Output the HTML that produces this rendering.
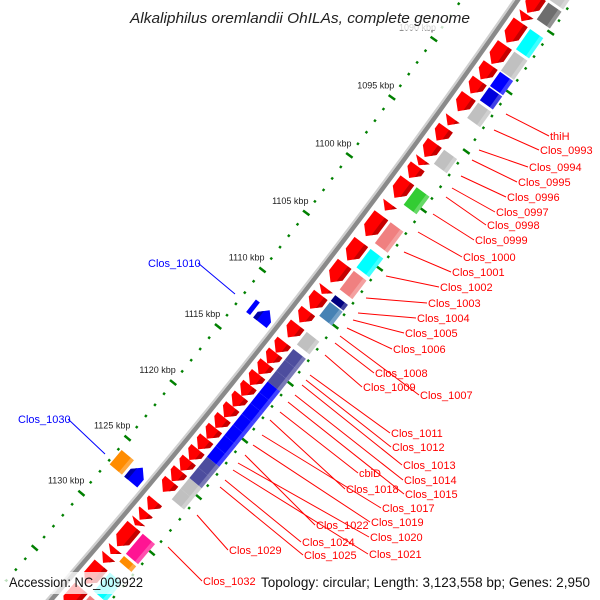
<!DOCTYPE html>
<html><head><meta charset="utf-8"><style>
html,body{margin:0;padding:0;background:#fff;width:600px;height:600px;overflow:hidden;}
svg{display:block;font-family:"Liberation Sans",sans-serif;}
</style></head><body>
<svg id="map" width="600" height="600" viewBox="0 0 600 600" xmlns="http://www.w3.org/2000/svg">
<g id="backbone"></g>
<g id="ticks"></g>
<g id="genes"></g>
<g id="labels"></g>
<rect x="124" y="6" width="352" height="24" fill="#fff" opacity="0.8"/>
<text x="130" y="23" font-size="14.5" font-style="italic" fill="#222" textLength="340" lengthAdjust="spacingAndGlyphs">Alkaliphilus oremlandii OhILAs, complete genome</text>
<rect x="5" y="572" width="143" height="22" fill="#fff" opacity="0.75"/>
<text x="9" y="587" font-size="14" fill="#111" textLength="134" lengthAdjust="spacingAndGlyphs">Accession: NC_009922</text>
<rect x="256" y="572" width="339" height="22" fill="#fff" opacity="0.75"/>
<text x="261" y="587" font-size="14" fill="#111" textLength="329" lengthAdjust="spacingAndGlyphs">Topology: circular; Length: 3,123,558 bp; Genes: 2,950</text>
</svg>
<script>
// ---- data ----
const geneStart = [1081.5,1083.4,1084.9,1085.6,1087.5,1089.2,1090.5,1091.8,1093.7,1094.5,1095.8,1097.2,1097.8,1099.0,1101.0,1102.0,1104.3,1106.2,1108.3,1108.9,1110.3,1111.5,
 1113.0,1113.95,1114.9,1115.85,1116.8,1117.75,1118.7,1119.65,1120.6,1121.55,1122.5,1123.45,1124.4,1125.35,
 1127.1,1128.1,1128.9,1129.4,1131.4,1132.1,1132.9,1135.0,
 1111.9,1125.9];
const geneEnd = [1083.2,1084.8,1085.5,1087.3,1089.1,1090.4,1091.6,1093.1,1094.3,1095.6,1097.0,1097.7,1098.8,1100.5,1101.6,1103.8,1105.9,1107.8,1108.8,1110.1,1111.3,1112.6,
 1113.95,1114.9,1115.85,1116.8,1117.75,1118.7,1119.65,1120.6,1121.55,1122.5,1123.45,1124.4,1125.35,1126.3,
 1127.9,1128.8,1129.3,1131.2,1131.9,1132.7,1134.6,1136.8,
 1113.0,1127.2];
const geneStrand = [1,1,1,1,1,1,1,1,1,1,1,1,1,1,1,1,1,1,1,1,1,1,
 1,1,1,1,1,1,1,1,1,1,1,1,1,1,
 1,1,1,1,1,1,1,1,
 -1,-1];
const geneCog = ["#c8c8c8","#6e6e6e","","#00ffff","#c0c0c0","#0000ff","#0000dd","#c0c0c0","","","#c0c0c0","","","#33cc33","","#f08080","#00ffff","#f08080","#000080","#4682b4","","#c0c0c0",
 "#4d4d9e","#4d4d9e","#4d4d9e","#0000ff","#0000ff","#0000ff","#0000ff","#0000ff","#0000ff","#0000ff","#4d4d9e","#4d4d9e","#c0c0c0","#c0c0c0",
 "","","","#ff1493","#ff8c00","","#00ffff","#f08080",
 "#0000ff","#ff8c00"];
const geneBoxThin = [0,0,0,0,0,0,0,0,0,0,0,0,0,0,0,0,0,0,0,0,0,0,
 0,0,0,0,0,0,0,0,0,0,0,0,0,0,
 0,0,0,0,0,0,0,0,
 1,0];
const tickStart = 1080, tickEnd = 1140, tickLabelMax = 1130;
const labelText = ["thiH","Clos_0993","Clos_0994","Clos_0995","Clos_0996","Clos_0997","Clos_0998","Clos_0999","Clos_1000","Clos_1001","Clos_1002","Clos_1003","Clos_1004","Clos_1005","Clos_1006","Clos_1008","Clos_1009","Clos_1007","Clos_1011","Clos_1012","Clos_1013","Clos_1014","Clos_1015","cbiD","Clos_1018","Clos_1017","Clos_1019","Clos_1022","Clos_1020","Clos_1024","Clos_1025","Clos_1021","Clos_1029","Clos_1032","Clos_1010","Clos_1030"];
const labelX = [550,540,529,518,507,496,487,475,463,452,440,428,417,405,393,375,363,420,391,392,403,404,405,359,346,382,371,316,370,302,304,369,229,203,148,18];
const labelY = [140,154,171,186,201,216,229,244,261,276,291,307,322,337,353,377,391,399,437,451,469,484,498,477,493,512,526,529,541,546,559,558,554,585,267,423];
const lineX1 = [506,494,479,472,461,452,446,433,418,404,386,366,358,353,347,335,325,340,310,306,302,295,288,280,270,262,253,245,238,225,220,233,197,168,235,105];
const lineY1 = [114,130,150,160,176,188,197,214,232,252,276,298,313,320,328,343,355,336,375,380,385,395,402,412,420,435,445,455,463,480,487,470,515,547,294,454];
const labelColor = labelText.map((t,i)=> i>=34 ? "#0000ff" : "#ff0000");

// ---- geometry ----
const NS="http://www.w3.org/2000/svg";
const CX=-5086, CY=-3879, R0=6815;
function ang(k){return (38.41+0.1217*(k-1115))*Math.PI/180;}
function pt(k,o){const a=ang(k),r=R0+o;return [CX+r*Math.cos(a),CY+r*Math.sin(a)];}
function P(arr){return arr.map(p=>p[0].toFixed(2)+","+p[1].toFixed(2)).join(" ");}
function mk(tag,attrs,parent){const e=document.createElementNS(NS,tag);for(const a in attrs)e.setAttribute(a,attrs[a]);parent.appendChild(e);return e;}

// backbone
const bb=document.getElementById("backbone");
function arcPts(o){const a=[];for(let k=tickStart;k<=tickEnd;k+=0.5)a.push(pt(k,o));return a;}
let bl=mk("polyline",{points:P(arcPts(0.5)),fill:"none",stroke:"#8a8a8a","stroke-width":4.5},bb);


let bl2=mk("polyline",{points:P(arcPts(-2.8)),fill:"none",stroke:"#cfcfcf","stroke-width":2.2},bb);



// ticks
const tg=document.getElementById("ticks");
for(let k=tickStart;k<=tickEnd;k++){
  const major=(k%5===0);
  for(const side of [-1,1]){
    const o=46*side, h=major?4:1.2;
    const a=pt(k,o-h), b=pt(k,o+h);
    const t=mk("line",{x1:a[0],y1:a[1],x2:b[0],y2:b[1],stroke:"#008000","stroke-width":2.5},tg);
    
    
  }
  if(major && k<=tickLabelMax){
    const c=pt(k,-66);
    const tx=mk("text",{x:c[0],y:c[1]+3,"font-size":9,"text-anchor":"middle",fill:"#222"},tg);
    tx.textContent=k+" kbp";
    
    
  }
}

// genes
const gg=document.getElementById("genes");
for(let i=0;i<geneStart.length;i++){
  const s=geneStart[i], e=geneEnd[i], st=geneStrand[i];
  const len=e-s, h=Math.min(0.6,len);
  const g=mk("g",{},gg);
  
  
  let arrowPts, shadePts;
  if(st>0){
    arrowPts=[pt(s,7),pt(e-h,7),pt(e,15.5),pt(e-h,24),pt(s,24)];
    shadePts=[pt(s,19.5),pt(e-h,19.5),pt(e-h*0.47,19.5),pt(e-h,24),pt(s,24)];
  } else {
    arrowPts=[pt(e,-7),pt(s+h,-7),pt(s,-15.5),pt(s+h,-24),pt(e,-24)];
    shadePts=[pt(e,-19.5),pt(s+h,-19.5),pt(s+h*0.47,-19.5),pt(s+h,-24),pt(e,-24)];
  }
  const ac = st>0 ? "#ff0000" : "#0000ff";
  const sc = st>0 ? "#c40000" : "#0000a8";
  const ar=mk("polygon",{points:P(arrowPts),fill:ac},g);
  
  
  const sh=mk("polygon",{points:P(shadePts),fill:sc},g);
  
  
  if(geneCog[i]){
    let o1=st>0?27:-43, o2=st>0?43:-27;
    if(geneBoxThin[i]){ o1=st>0?28:-33; o2=st>0?33:-28; }
    const bx=mk("polygon",{points:P([pt(s,o1),pt(e,o1),pt(e,o2),pt(s,o2)]),fill:geneCog[i]},g);
    
    
    if(!geneBoxThin[i]){
      const lo1=st>0?39:-31, lo2=st>0?43:-27;
      const hl=mk("polygon",{points:P([pt(s,lo1),pt(e,lo1),pt(e,lo2),pt(s,lo2)]),fill:"#fff",opacity:0.25},g);
      
      
    }
  }
}

// labels
const lg=document.getElementById("labels");
for(let i=0;i<labelText.length;i++){
  const blue=i>=34;
  const x2 = blue ? labelX[i]+50 : labelX[i]-1;
  const y2 = labelY[i]-4;
  const ln=mk("line",{x1:lineX1[i],y1:lineY1[i],x2:x2,y2:y2,stroke:labelColor[i],"stroke-width":1},lg);
  
  
  const t=mk("text",{x:labelX[i],y:labelY[i],"font-size":11,fill:labelColor[i]},lg);
  t.textContent=labelText[i];
  
  
}
</script>
</body></html>
